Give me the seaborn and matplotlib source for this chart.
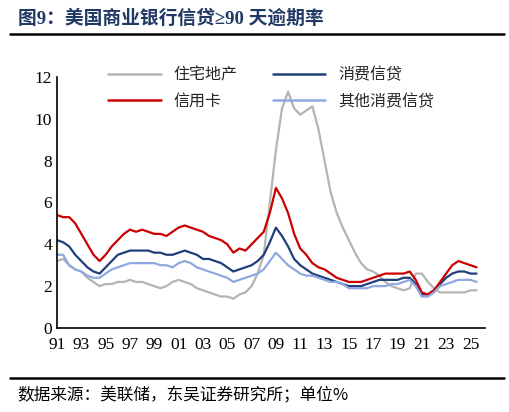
import matplotlib
matplotlib.use("Agg")
import matplotlib.pyplot as plt
import seaborn as sns
import numpy as np
import pandas as pd
from matplotlib.lines import Line2D

sns.set_style("white")
plt.rcParams['font.family'] = ['Liberation Serif', 'Noto Sans CJK SC']

years = np.arange(1991, 2026)
tick_labels = ["91","93","95","97","99","01","03","05","07","09","11","13","15","17","19","21","23","25"]

real_estate = [3.2,3.3, 3.0,2.8, 2.7,2.4, 2.2,2.0, 2.1,2.1, 2.2,2.2, 2.3,2.2, 2.2,2.1, 2.0,1.9, 2.0,2.2,
               2.3,2.2, 2.1,1.9, 1.8,1.7, 1.6,1.5, 1.5,1.4, 1.6,1.7, 2.0,2.6, 3.5,6.0, 8.5,10.5, 11.3,10.5,
               10.2,10.4, 10.6,9.5, 8.0,6.5, 5.5,4.8, 4.2,3.6, 3.1,2.8, 2.7,2.5, 2.2,2.0, 1.9,1.8, 1.9,2.6,
               2.6,2.2, 1.9,1.7, 1.7,1.7, 1.7,1.7, 1.8,1.8]
credit_card = [5.4,5.3, 5.3,5.0, 4.5,4.0, 3.5,3.2, 3.5,3.9, 4.2,4.5, 4.7,4.6, 4.7,4.6, 4.5,4.5, 4.4,4.6,
               4.8,4.9, 4.8,4.7, 4.6,4.4, 4.3,4.2, 4.0,3.6, 3.8,3.7, 4.0,4.3, 4.6,5.5, 6.7,6.2, 5.5,4.5,
               3.8,3.5, 3.1,2.9, 2.8,2.6, 2.4,2.3, 2.2,2.2, 2.2,2.3, 2.4,2.5, 2.6,2.6, 2.6,2.6, 2.7,2.3,
               1.7,1.6, 1.8,2.2, 2.6,3.0, 3.2,3.1, 3.0,2.9]
consumer = [4.2,4.1, 3.9,3.5, 3.2,2.9, 2.7,2.6, 2.9,3.2, 3.5,3.6, 3.7,3.7, 3.7,3.7, 3.6,3.6, 3.5,3.5,
            3.6,3.7, 3.6,3.5, 3.3,3.3, 3.2,3.1, 2.9,2.7, 2.8,2.9, 3.0,3.2, 3.5,4.1, 4.8,4.4, 3.9,3.3,
            3.0,2.8, 2.6,2.5, 2.4,2.3, 2.2,2.1, 2.0,2.0, 2.0,2.1, 2.2,2.3, 2.3,2.3, 2.3,2.4, 2.4,2.1,
            1.6,1.6, 1.8,2.1, 2.4,2.6, 2.7,2.7, 2.6,2.6]
other_consumer = [3.5,3.5, 3.0,2.8, 2.7,2.5, 2.4,2.4, 2.6,2.8, 2.9,3.0, 3.1,3.1, 3.1,3.1, 3.1,3.0, 3.0,2.9,
                  3.1,3.2, 3.1,2.9, 2.8,2.7, 2.6,2.5, 2.4,2.2, 2.3,2.4, 2.5,2.6, 2.8,3.2, 3.6,3.3, 3.0,2.8,
                  2.6,2.5, 2.5,2.4, 2.3,2.2, 2.2,2.1, 1.9,1.9, 1.9,1.9, 2.0,2.0, 2.0,2.1, 2.1,2.2, 2.3,2.0,
                  1.5,1.5, 1.7,2.0, 2.1,2.2, 2.3,2.3, 2.3,2.2]

t = np.repeat(years, 2) + np.tile([0.0, 0.5], len(years))
names = ["住宅地产", "消费信贷", "信用卡", "其他消费信贷"]
colors = ["#b4b4b4", "#1f3f7a", "#cc0000", "#8fa9e0"]
df = pd.DataFrame({"t": t, "住宅地产": real_estate, "消费信贷": consumer,
                   "信用卡": credit_card, "其他消费信贷": other_consumer})
long = df.melt(id_vars="t", var_name="series", value_name="v")

fig = plt.figure(figsize=(5.09, 4.12), dpi=100)
ax = fig.add_axes([0.112, 0.204, 0.841, 0.609])
sns.lineplot(data=long, x="t", y="v", hue="series", hue_order=names,
             palette=colors, linewidth=1.6, ax=ax, legend=False)
ax.set_xlim(1991, 2026.2)
ax.set_ylim(0, 12)
ax.set_yticks(range(0, 13, 2))
ax.set_xticks(np.arange(1991, 2026, 2))
ax.set_xticklabels(tick_labels)
ax.set_xlabel(""); ax.set_ylabel("")
for s in ["top", "right"]:
    ax.spines[s].set_visible(False)
for s in ["left", "bottom"]:
    ax.spines[s].set_color("black"); ax.spines[s].set_linewidth(1.2)
ax.tick_params(axis="x", direction="inout", length=6, labelsize=12.5, colors="black")
ax.tick_params(axis="y", direction="in", length=4, labelsize=12.5, colors="black")

order = [0, 2, 1, 3]
handles = [Line2D([], [], color=colors[i], lw=1.8) for i in order]
leg = ax.legend(handles, [names[i] for i in order], ncol=2, frameon=False, loc="upper center",
                bbox_to_anchor=(0.5, 1.1), handlelength=3.3,
                columnspacing=2.2, labelspacing=0.6,
                prop={"family": ["Noto Sans CJK SC"], "size": 11.5})

fig.text(0.035, 0.955, "图9：美国商业银行信贷≥90 天逾期率", color="#1f3864",
         fontsize=13.5, fontweight="bold", ha="left", va="center",
         family=["Liberation Serif", "Noto Sans CJK SC"])
fig.add_artist(Line2D([0.02, 0.99], [0.918, 0.918], color="black", lw=1.8))
fig.add_artist(Line2D([0.02, 0.99], [0.083, 0.083], color="black", lw=1.8))
fig.text(0.035, 0.04, "数据来源：美联储，东吴证券研究所；单位%", color="black",
         fontsize=12, ha="left", va="center", family=["Noto Sans CJK SC"])

fig.savefig("out.png", dpi=100)
